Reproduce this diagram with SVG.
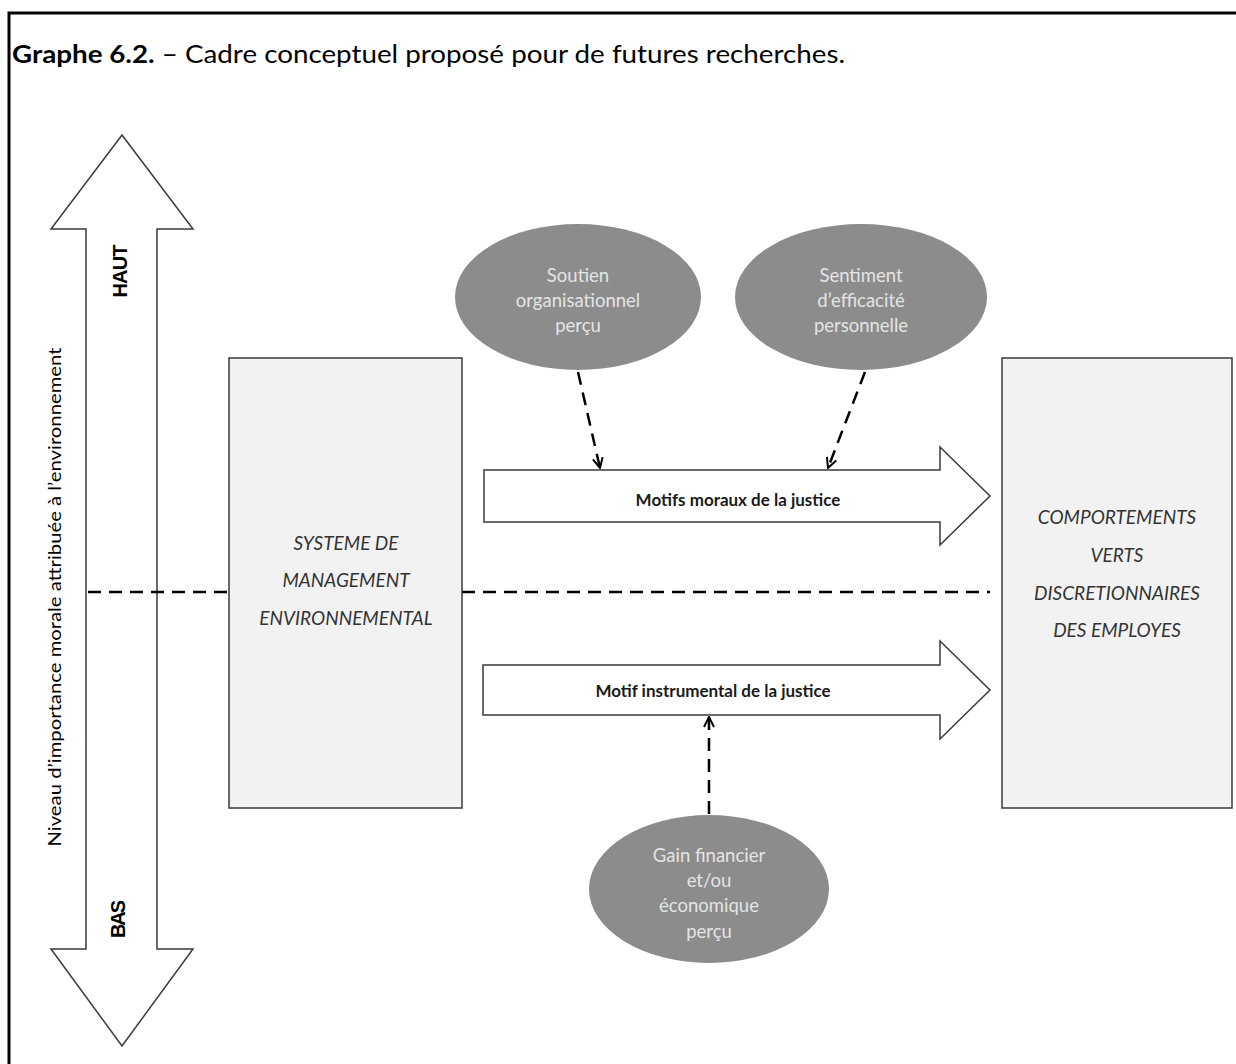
<svg xmlns="http://www.w3.org/2000/svg" width="1236" height="1064" viewBox="0 0 1236 1064">
<style>
.frame{fill:none;stroke:#000;stroke-width:3}
.title{font-family:Lato,"Open Sans",sans-serif;font-size:25px;fill:#000}
.box{fill:#f2f2f2;stroke:#3a3a3a;stroke-width:1.5}
.boxt{font-family:Lato,"Open Sans",sans-serif;font-style:italic;font-size:19px;fill:#333;text-anchor:middle}
.blk{fill:#fff;stroke:#3a3a3a;stroke-width:1.5}
.blkt{font-family:Lato,"Open Sans",sans-serif;font-weight:bold;font-size:17px;fill:#1a1a1a;text-anchor:middle}
.ell{fill:#8c8c8c}
.ellt{font-family:Lato,"Open Sans",sans-serif;font-size:18.5px;fill:#e4e4e4;text-anchor:middle}
.dash{fill:none;stroke:#000;stroke-width:2.5;stroke-dasharray:13 8}
.vlab{font-family:"Liberation Sans",Arial,sans-serif;font-weight:bold;font-size:20px;fill:#000;text-anchor:middle}
.side{font-family:Lato,"Open Sans",sans-serif;font-size:18px;fill:#000;text-anchor:middle}
</style>
<defs>
<marker id="vhead" viewBox="0 0 10 10" refX="9" refY="5" markerWidth="5" markerHeight="5" markerUnits="strokeWidth" orient="auto">
<path d="M1,1 L9,5 L1,9" fill="none" stroke="#000" stroke-width="1.6"/>
</marker>
</defs>
<g id="frame">
<polyline class="frame" points="9,1064 9,13 1236,13"/>
<text class="title" x="12" y="63" textLength="833" lengthAdjust="spacingAndGlyphs"><tspan font-weight="bold">Graphe 6.2.</tspan> – Cadre conceptuel proposé pour de futures recherches.</text>
</g>
<g id="scale-arrow">
<path d="M122,135 L193,229 L157,229 L157,949 L193,949 L122,1046 L51,949 L86,949 L86,229 L51,229 Z" fill="#fff" stroke="#3a3a3a" stroke-width="1.5"/>
<text class="vlab" transform="translate(127,271) rotate(-90)" textLength="53">HAUT</text>
<text class="vlab" transform="translate(125,919) rotate(-90)" textLength="38">BAS</text>
<text class="side" transform="translate(61,597) rotate(-90)" textLength="499" lengthAdjust="spacingAndGlyphs">Niveau d’importance morale attribuée à l’environnement</text>
</g>
<g id="connectors">
<line class="dash" x1="88" y1="592" x2="229" y2="592"/>
<line class="dash" x1="462" y1="592" x2="990" y2="592"/>
</g>
<g id="sme">
<rect class="box" x="229" y="358" width="233" height="450"/>
<text class="boxt" x="346" y="550">SYSTEME DE</text>
<text class="boxt" x="346" y="587">MANAGEMENT</text>
<text class="boxt" x="346" y="625">ENVIRONNEMENTAL</text>
</g>
<g id="cvd">
<rect class="box" x="1002" y="358" width="230" height="450"/>
<text class="boxt" x="1117" y="524">COMPORTEMENTS</text>
<text class="boxt" x="1117" y="562">VERTS</text>
<text class="boxt" x="1117" y="600">DISCRETIONNAIRES</text>
<text class="boxt" x="1117" y="637">DES EMPLOYES</text>
</g>
<g id="motifs-moraux">
<path class="blk" d="M484,470 L940,470 L940,447 L990,496 L940,545 L940,522 L484,522 Z"/>
<text class="blkt" x="738" y="506">Motifs moraux de la justice</text>
</g>
<g id="motif-instrumental">
<path class="blk" d="M483,665 L940,665 L940,641 L990,690 L940,739 L940,715 L483,715 Z"/>
<text class="blkt" x="713" y="697">Motif instrumental de la justice</text>
</g>
<g id="soutien">
<ellipse class="ell" cx="578" cy="297" rx="123" ry="73"/>
<text class="ellt" x="578" y="282">Soutien</text>
<text class="ellt" x="578" y="307">organisationnel</text>
<text class="ellt" x="578" y="332">perçu</text>
</g>
<g id="sentiment">
<ellipse class="ell" cx="861" cy="297" rx="126" ry="73"/>
<text class="ellt" x="861" y="282">Sentiment</text>
<text class="ellt" x="861" y="307">d’efficacité</text>
<text class="ellt" x="861" y="332">personnelle</text>
</g>
<g id="gain">
<ellipse class="ell" cx="709" cy="889" rx="120" ry="74"/>
<text class="ellt" x="709" y="862">Gain financier</text>
<text class="ellt" x="709" y="887">et/ou</text>
<text class="ellt" x="709" y="912">économique</text>
<text class="ellt" x="709" y="938">perçu</text>
</g>
<g id="influences">
<line class="dash" x1="578" y1="372" x2="600" y2="468" marker-end="url(#vhead)"/>
<line class="dash" x1="865" y1="372" x2="828" y2="468" marker-end="url(#vhead)"/>
<line class="dash" x1="709" y1="814" x2="709" y2="717" marker-end="url(#vhead)"/>
</g>
</svg>
